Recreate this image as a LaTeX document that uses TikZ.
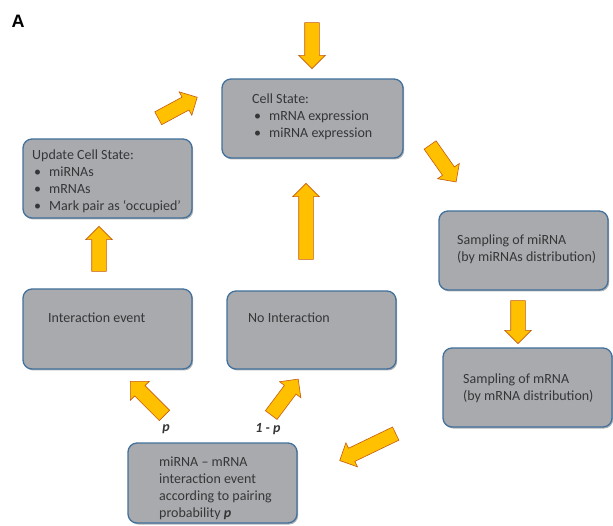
\documentclass[tikz,border=0pt]{standalone}
\usepackage{fontspec}
\setmainfont{Carlito}
\newfontfamily\panelfont{Liberation Sans}
\usepackage{tikz}
\usetikzlibrary{shapes.arrows, shadows, calc}
\definecolor{boxgray}{HTML}{A8AAAE}
\definecolor{boxblue}{HTML}{41719C}
\definecolor{txtgray}{HTML}{363636}
\definecolor{arrowfill}{HTML}{FFC000}
\definecolor{arrowline}{HTML}{C55A11}
\tikzstyle{box} = [rectangle, rounded corners=9pt, draw=boxblue, line width=1.3pt, fill=boxgray, minimum width=169pt, minimum height=79pt, inner sep=0pt, drop shadow={shadow xshift=1.2pt, shadow yshift=-1.5pt, opacity=0.3, fill=black}]
\tikzstyle{txt} = [anchor=north west, align=left, inner sep=0pt, text=txtgray, font=\fontsize{14}{17}\selectfont]
\tikzstyle{flow} = [single arrow, draw=arrowline, fill=arrowfill, line width=0.6pt, inner xsep=0pt, inner ysep=7pt, single arrow head extend=6pt, single arrow tip angle=90]
\tikzstyle{prob} = [inner sep=0pt, text=txtgray, font=\fontsize{14}{17}\selectfont\bfseries\itshape]
\newcommand{\bul}{\hspace*{2pt}\makebox[15pt][l]{•}}
\newcommand{\flowarrow}[3]{%
  \path let \p1=(#2), \p2=(#3), \n1={atan2(\y2-\y1,\x2-\x1)}, \n2={veclen(\x2-\x1,\y2-\y1)} in
    node (#1) [flow, rotate=\n1, minimum height=\n2] at ($(#2)!0.5!(#3)$) {};}

\begin{document}
\begin{tikzpicture}[x=1pt, y=-1pt]
  \useasboundingbox (0,0) rectangle (613,526);

  \node (panel) at (18,21.5) {\panelfont\fontsize{18}{20}\selectfont\bfseries A};

  % Boxes
  \node (cell) [box, minimum width=181pt] at (312.5,118.5) {};
  \node (update) [box] at (107.5,178.5) {};
  \node (sampmirna) [box] at (523.5,250.5) {};
  \node (sampmrna) [box] at (527.5,387.5) {};
  \node (interevent) [box, minimum height=80pt] at (107.5,329) {};
  \node (nointer) [box, minimum height=78pt] at (311.5,330) {};
  \node (pairing) [box, minimum height=80pt] at (212.5,483) {};

  % Texts in the boxes
  \node (celltxt) [txt] at (252,93.5) {Cell State:\\ \bul mRNA expression\\ \bul miRNA expression};
  \node (updatetxt) [txt] at (32,149.5) {Update Cell State:\\ \bul miRNAs\\ \bul mRNAs\\ \bul Mark pair as ‘occupied’};
  \node (sampmirnatxt) [txt] at (457,234.5) {Sampling of miRNA\\ (by miRNAs distribution)};
  \node (sampmrnatxt) [txt] at (463,373.5) {Sampling of mRNA\\ (by mRNA distribution)};
  \node (intereventtxt) [txt] at (48,312.5) {Interaction event};
  \node (nointertxt) [txt] at (248,313) {No Interaction};
  \node (pairingtxt) [txt] at (159,456.5) {miRNA – mRNA\\ interaction event\\ according to pairing\\ probability \textbf{\textit{p}}};

  % Probabilities
  \node (probp) [prob] at (166,429) {p};
  \node (probq) [prob] at (268,429) {1 - p};

  % Arrow ends
  \coordinate (a0) at (312,19);   \coordinate (b0) at (312,65);
  \coordinate (a1) at (155,120);  \coordinate (b1) at (194,99);
  \coordinate (a2) at (428,142);  \coordinate (b2) at (454,179);
  \coordinate (a3) at (518,297);  \coordinate (b3) at (518,340);
  \coordinate (a4) at (399,432);  \coordinate (b4) at (343,459);
  \coordinate (a5) at (167,418);  \coordinate (b5) at (133,384);
  \coordinate (a6) at (269,418);  \coordinate (b6) at (296,382);
  \coordinate (a7) at (306,263);  \coordinate (b7) at (306,187);
  \coordinate (a8) at (99,275);   \coordinate (b8) at (99,230);

  % Arrows
  \flowarrow{f0}{a0}{b0}
  \flowarrow{f1}{a1}{b1}
  \flowarrow{f2}{a2}{b2}
  \flowarrow{f3}{a3}{b3}
  \flowarrow{f4}{a4}{b4}
  \flowarrow{f5}{a5}{b5}
  \flowarrow{f6}{a6}{b6}
  \flowarrow{f7}{a7}{b7}
  \flowarrow{f8}{a8}{b8}

\end{tikzpicture}
\end{document}
